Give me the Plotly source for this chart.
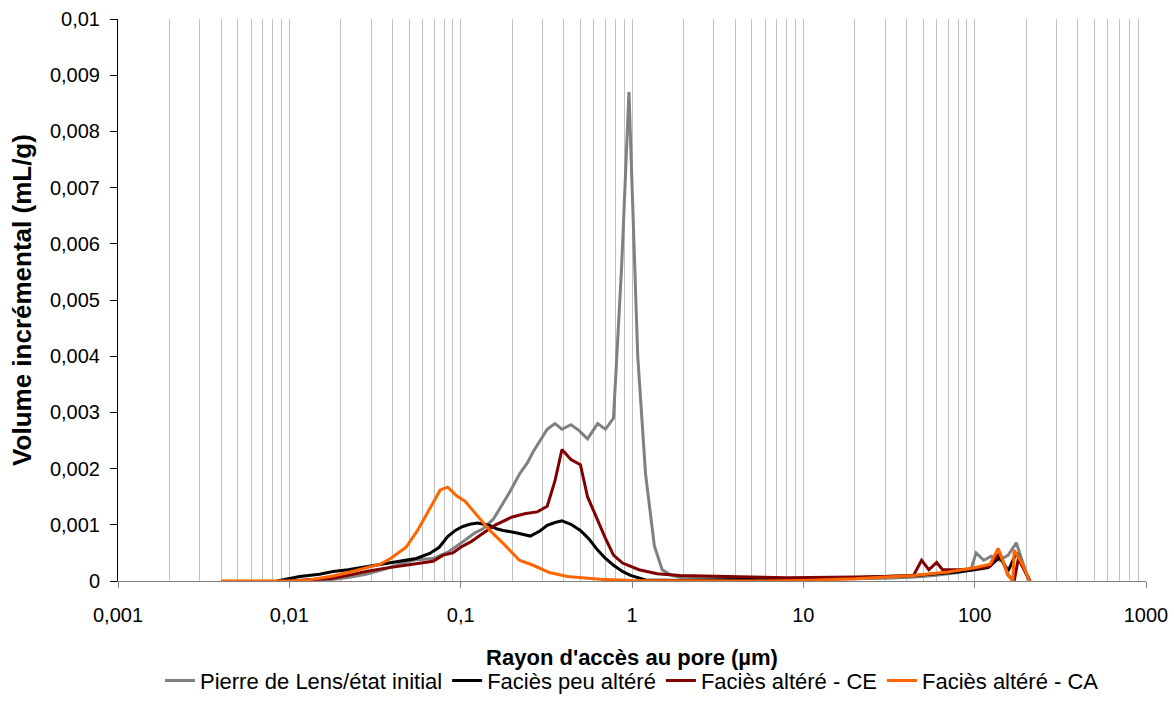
import plotly.graph_objects as go

# --- data ---
x_pierre = [0.0085, 0.012, 0.015, 0.018, 0.022, 0.028, 0.035, 0.044, 0.055, 0.069, 0.085, 0.1, 0.12, 0.135, 0.155, 0.17, 0.195, 0.22, 0.245, 0.265, 0.29, 0.32, 0.355, 0.39, 0.44, 0.49, 0.55, 0.63, 0.70, 0.78, 0.87, 0.96, 1.08, 1.2, 1.35, 1.5, 1.7, 2.0, 3, 5, 8, 12, 20, 30, 45, 60, 80, 95, 102, 113, 125, 140, 157, 175, 200, 210]
y_pierre = [0, 0, 0.00001, 0.00003, 0.00006, 0.00012, 0.0002, 0.0003, 0.00038, 0.0004, 0.00052, 0.00067, 0.00085, 0.00093, 0.0011, 0.0013, 0.0016, 0.0019, 0.0021, 0.0023, 0.0025, 0.0027, 0.0028, 0.0027, 0.00278, 0.00268, 0.00253, 0.0028, 0.0027, 0.0029, 0.0056, 0.0087, 0.004, 0.0019, 0.00063, 0.0002, 0.0001, 0.00005, 0.00004, 0.00003, 0.00003, 0.00003, 0.00004, 0.00005, 0.00007, 0.0001, 0.00015, 0.0002, 0.0005, 0.00037, 0.00044, 0.00037, 0.00046, 0.00068, 0.00014, 0]

x_peu = [0.0085, 0.0115, 0.015, 0.018, 0.022, 0.028, 0.035, 0.044, 0.055, 0.066, 0.075, 0.084, 0.093, 0.103, 0.113, 0.125, 0.137, 0.148, 0.162, 0.177, 0.21, 0.255, 0.29, 0.32, 0.355, 0.39, 0.44, 0.5, 0.56, 0.63, 0.7, 0.78, 0.88, 0.98, 1.2, 1.5, 2, 3, 5, 8, 12, 20, 30, 45, 60, 80, 100, 120, 140, 157, 175, 195, 210]
y_peu = [0, 0.00008, 0.00012, 0.00017, 0.0002, 0.00025, 0.0003, 0.00035, 0.0004, 0.00049, 0.0006, 0.00079, 0.0009, 0.00097, 0.00101, 0.00103, 0.00101, 0.00099, 0.00093, 0.0009, 0.00086, 0.0008, 0.00089, 0.00099, 0.00104, 0.00107, 0.00101, 0.0009, 0.00075, 0.00055, 0.0004, 0.00028, 0.00017, 0.0001, 0.00002, 0.00001, 0.00001, 0.00002, 0.00003, 0.00004, 0.00005, 0.00006, 0.00008, 0.0001, 0.00013, 0.00016, 0.0002, 0.00024, 0.00042, 0.00018, 0.0005, 0.0002, 0]

x_ce = [0.0098, 0.013, 0.018, 0.022, 0.028, 0.035, 0.044, 0.055, 0.069, 0.079, 0.09, 0.1, 0.115, 0.135, 0.16, 0.2, 0.24, 0.28, 0.32, 0.355, 0.39, 0.44, 0.5, 0.55, 0.63, 0.70, 0.78, 0.88, 1.1, 1.4, 1.9, 3, 5, 8, 12, 20, 30, 44, 49, 54, 60, 65, 80, 100, 123, 140, 157, 170, 180, 210]
y_ce = [0, 0.00002, 0.00005, 0.0001, 0.00017, 0.00022, 0.00026, 0.0003, 0.00035, 0.00046, 0.0005, 0.0006, 0.0007, 0.00085, 0.001, 0.00114, 0.0012, 0.00123, 0.00133, 0.00178, 0.00234, 0.00216, 0.00207, 0.0015, 0.00107, 0.00076, 0.00046, 0.00032, 0.0002, 0.00013, 0.0001, 0.00008, 0.00007, 0.00006, 0.00006, 0.00007, 0.00008, 0.0001, 0.00037, 0.0002, 0.00033, 0.0002, 0.0002, 0.00022, 0.00026, 0.0005, 0.0001, 0, 0.0004, 0]

x_ca = [0.004, 0.006, 0.008, 0.01, 0.013, 0.018, 0.022, 0.028, 0.034, 0.039, 0.048, 0.056, 0.066, 0.076, 0.084, 0.095, 0.106, 0.125, 0.148, 0.177, 0.22, 0.265, 0.33, 0.42, 0.65, 1.0, 2, 5, 10, 20, 44, 70, 98, 123, 137, 157, 167, 170, 190, 210]
y_ca = [0, 0, 0, 0, 0.00002, 0.00009, 0.00015, 0.00023, 0.0003, 0.0004, 0.0006, 0.0009, 0.0013, 0.00162, 0.00167, 0.00151, 0.00142, 0.00116, 0.0009, 0.00067, 0.00037, 0.00028, 0.00015, 0.00008, 0.00003, 0.00001, 0, 0, 0.00001, 0.00004, 0.0001, 0.00016, 0.00023, 0.0003, 0.00058, 0.0001, 0, 0.00055, 0.0003, 0]

series_names = ["Pierre de Lens/état initial", "Faciès peu altéré", "Faciès altéré - CE", "Faciès altéré - CA"]
series_colors = ["#808080", "#000000", "#800000", "#FF6600"]

x_tickvals = [0.001, 0.01, 0.1, 1, 10, 100, 1000]
x_ticktext = ["0,001", "0,01", "0,1", "1", "10", "100", "1000"]
y_tickvals = [i / 1000 for i in range(11)]
y_ticktext = ["0", "0,001", "0,002", "0,003", "0,004", "0,005", "0,006", "0,007", "0,008", "0,009", "0,01"]

minor_vals = [m * 10 ** e for e in range(-3, 3) for m in range(1, 10)] + [1000]

fig = go.Figure()
for (xs, ys), name, color in zip([(x_pierre, y_pierre), (x_peu, y_peu), (x_ce, y_ce), (x_ca, y_ca)], series_names, series_colors):
    fig.add_trace(go.Scatter(x=xs, y=ys, mode="lines", name=name,
                             line=dict(color=color, width=3)))

font_family = "Liberation Sans, Arial, sans-serif"
fig.update_layout(
    width=1174, height=714,
    margin=dict(l=118, r=28, t=19, b=126),
    plot_bgcolor="white", paper_bgcolor="white",
    font=dict(family=font_family, size=20, color="black"),
    showlegend=True,
    legend=dict(orientation="h", x=0.5, xanchor="center", y=-0.14, yanchor="top",
                font=dict(size=22), itemwidth=30, tracegroupgap=0),
    xaxis=dict(type="log", range=[-3, 3], tickvals=x_tickvals, ticktext=x_ticktext,
               showgrid=False, showline=True, linecolor="#808080", linewidth=1,
               ticks="outside", ticklen=6, tickcolor="#808080", automargin=False,
               ticklabelstandoff=10,
               minor=dict(tickvals=minor_vals, showgrid=True, gridcolor="#c0c0c0", gridwidth=1, ticks=""),
               title=dict(text="<b>Rayon d'accès au pore (µm)</b>", standoff=24, font=dict(size=22)),
               zeroline=False, tickfont=dict(size=20)),
    yaxis=dict(range=[0, 0.01], tickvals=y_tickvals, ticktext=y_ticktext,
               showgrid=False, showline=True, linecolor="#000000", linewidth=1,
               ticks="outside", ticklen=7, tickcolor="#000000", automargin=False,
               ticklabelstandoff=6,
               title=dict(text="<b>Volume incrémental (mL/g)</b>", standoff=10, font=dict(size=26)),
               zeroline=False, tickfont=dict(size=20)),
)

fig.write_html("out.html", config={"displayModeBar": False},
               post_script="document.documentElement.style.overflow='hidden';"
                           "document.body.style.margin='0';document.body.style.overflow='hidden';"
                           "document.body.style.height='714px';")
